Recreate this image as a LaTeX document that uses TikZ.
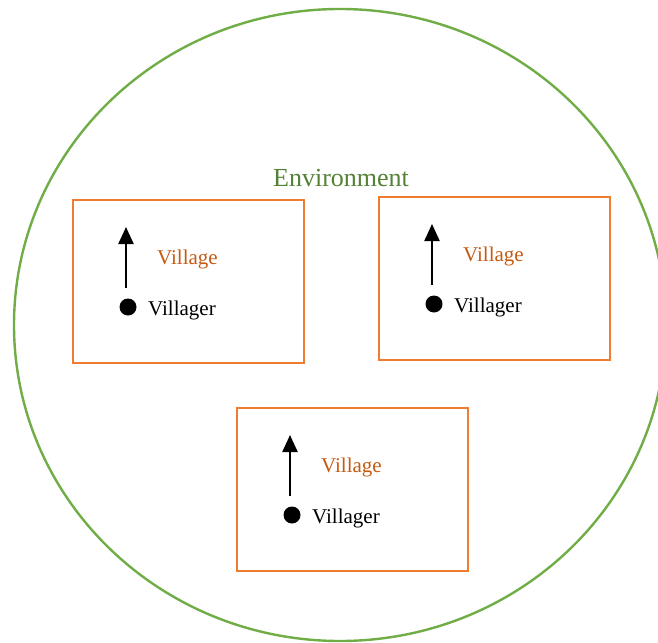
\documentclass[tikz,border=0pt]{standalone}
\usepackage{fontspec}
\setmainfont{Liberation Serif}
\usetikzlibrary{arrows.meta}
\definecolor{envgreen}{HTML}{70AD47}
\definecolor{envtext}{HTML}{548235}
\definecolor{vilorange}{HTML}{ED7D31}
\definecolor{viltext}{HTML}{C55A11}
\tikzset{
  villagebox/.style={draw=vilorange, line width=2.8pt},
  envellipse/.style={draw=envgreen, line width=2.4pt},
  movearrow/.style={line width=2.3pt, -{Triangle[length=17pt,width=15pt]}},
  villagerdot/.style={circle, fill=black, minimum size=17pt, inner sep=0pt},
  lbl/.style={inner sep=0pt, anchor=base west, font=\fontsize{21}{25}\selectfont},
}
\begin{document}
\begin{tikzpicture}[x=1pt, y=-1pt]
  \useasboundingbox (0,0) rectangle (658,642);
  \clip (0,0) rectangle (658,642);
  % the environment
  \draw[envellipse] (340,325) ellipse [x radius=326, y radius=316];
  \node[lbl, text=envtext, font=\fontsize{26}{30}\selectfont] (env) at (273,186.5) {Environment};
  % three villages, each with one villager moving upward
  \foreach \i/\dx/\dy in {1/0/0, 2/306/-3, 3/164/208} {
    \begin{scope}[shift={(\dx,\dy)}]
      \draw[villagebox] (73,200) rectangle (304,363);
      \coordinate (box\i) at (188.5,281.5);
      \node[lbl, text=viltext] (village\i) at (157,264) {Village};
      \node[villagerdot] (dot\i) at (128,307) {};
      \node[lbl] (villager\i) at (148,315) {Villager};
      \coordinate (base\i) at (126,288);
      \coordinate (tip\i) at (126,227);
      \draw[movearrow] (base\i) -- (tip\i);
    \end{scope}
  }
\end{tikzpicture}
\end{document}
